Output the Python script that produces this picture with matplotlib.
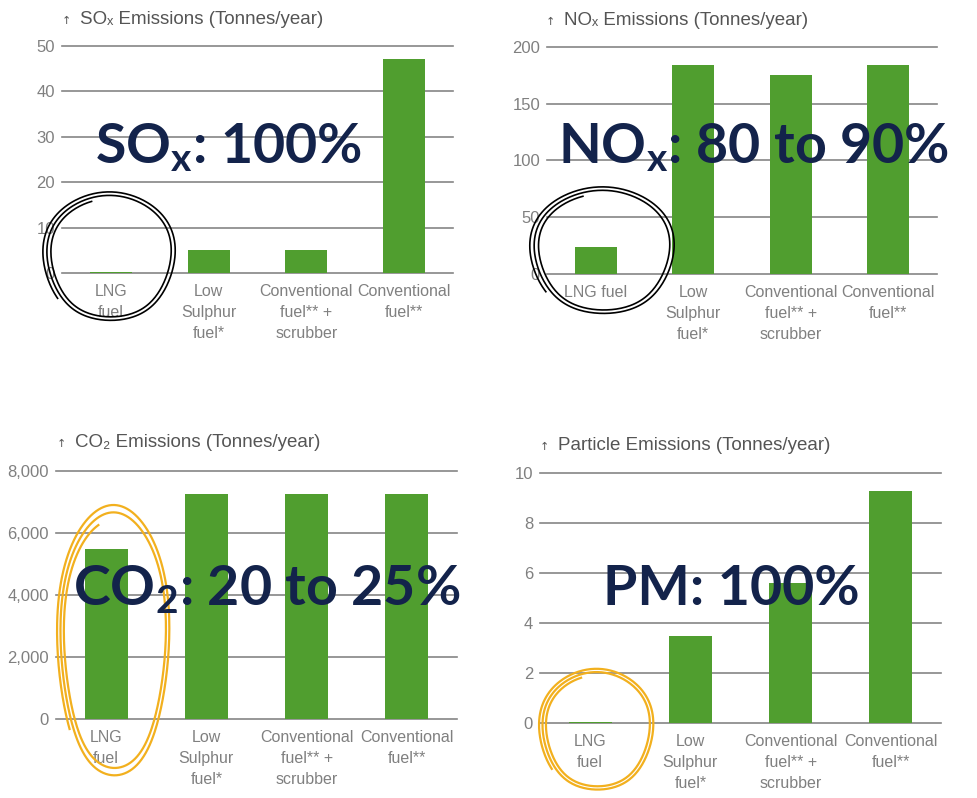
import numpy as np
import matplotlib
matplotlib.use("Agg")
import matplotlib.pyplot as plt
from matplotlib.lines import Line2D
from matplotlib.ticker import FuncFormatter

plt.rcParams['mathtext.fontset'] = 'custom'
plt.rcParams['mathtext.rm'] = 'Lato'
plt.rcParams['mathtext.bf'] = 'Lato:bold'

# 数据
labels_a = ["LNG\nfuel", "Low\nSulphur\nfuel*", "Conventional\nfuel** +\nscrubber", "Conventional\nfuel**"]
labels_b = ["LNG fuel", "Low\nSulphur\nfuel*", "Conventional\nfuel** +\nscrubber", "Conventional\nfuel**"]
sox = [0.2, 5, 5, 47.2]
nox = [24, 184, 175, 184]
co2 = [5500, 7250, 7250, 7250]
pm = [0.05, 3.5, 5.6, 9.3]

titles = ["SOₓ Emissions (Tonnes/year)", "NOₓ Emissions (Tonnes/year)",
          "CO₂ Emissions (Tonnes/year)", "Particle Emissions (Tonnes/year)"]
big_texts = [r"$\mathbf{SO_x}$: 100%", r"$\mathbf{NO_x}$: 80 to 90%",
             r"$\mathbf{CO_2}$: 20 to 25%", "PM: 100%"]

green = '#509e2f'
grid_c = '#858585'
txt_c = '#808080'
navy = '#13234b'
small_font = ['Liberation Sans', 'DejaVu Sans']

W, H = 978, 798
fig = plt.figure(figsize=(W / 100, H / 100), dpi=100)

# 每个子图：像素框 (左, 上, 右, 下)，数据，刻度，标签
panels = [
    ((62, 46, 453, 273), sox, np.arange(0, 51, 10), labels_a, False),
    ((547, 47, 937, 274), nox, np.arange(0, 201, 50), labels_b, False),
    ((56, 471, 457, 719), co2, np.arange(0, 8001, 2000), labels_a, True),
    ((540, 473, 941, 723), pm, np.arange(0, 11, 2), labels_a, False),
]

for (l, t, r, b), vals, ticks, labs, comma in panels:
    ax = fig.add_axes([l / W, 1 - b / H, (r - l) / W, (b - t) / H])
    x = np.arange(len(vals))
    ax.bar(x, vals, width=0.43, color=green, zorder=3)
    ax.set_xlim(-0.5, 3.5)
    ax.set_ylim(0, ticks[-1])
    ax.set_yticks(ticks)
    for tv in ticks:
        ax.axhline(tv, color=grid_c, lw=1.2, zorder=1, clip_on=False)
    if comma:
        ax.yaxis.set_major_formatter(FuncFormatter(lambda v, p: f"{int(v):,}"))
    ax.set_xticks(x)
    ax.set_xticklabels(labs, linespacing=1.5)
    ax.tick_params(length=0, labelsize=12, colors=txt_c, pad=5)
    ax.tick_params(axis='x', labelsize=11.5, pad=8)
    for lab in ax.get_xticklabels() + ax.get_yticklabels():
        lab.set_family(small_font)
    for s in ax.spines.values():
        s.set_visible(False)
    ax.patch.set_alpha(0)

# 标题
title_pos = [(80, 24), (564, 25), (75, 447), (558, 450)]
for (tx, ty), tt in zip(title_pos, titles):
    fig.text((tx - 18) / W, 1 - ty / H, "↑", fontsize=8, color='#555555', va='baseline')
    fig.text(tx / W, 1 - ty / H, tt, fontsize=13.5, color='#555555', va='baseline', family=small_font)

# 手绘圈
def scribble(cx, cy, rx, ry, color, lw, turns=2.3, start=1.9):
    t = np.linspace(start, start + 2 * np.pi * turns, 600)
    k = np.linspace(0, 1, t.size)
    rxx = rx * (0.88 + 0.14 * k + 0.03 * np.sin(3 * t))
    ryy = ry * (0.90 + 0.12 * k + 0.03 * np.cos(2 * t))
    px = cx + rxx * np.cos(t)
    py = cy - ryy * np.sin(t)
    fig.add_artist(Line2D(px / W, 1 - py / H, color=color, lw=lw, transform=fig.transFigure, zorder=10))

scribble(110, 257, 66, 67, 'black', 1.2)
scribble(603, 251, 72, 66, 'black', 1.2)
scribble(114, 642, 56, 141, '#f2b01e', 1.6)
scribble(597, 730, 57, 63, '#f2b01e', 1.6)

# 大字
big_pos = [(95, 163), (558, 163), (73, 605), (603, 605)]
for (bx, by), bt in zip(big_pos, big_texts):
    fig.text(bx / W, 1 - by / H, bt, fontsize=40, fontweight='bold', family='Lato',
             color=navy, va='baseline', zorder=20)

fig.savefig('out.png', dpi=100)
